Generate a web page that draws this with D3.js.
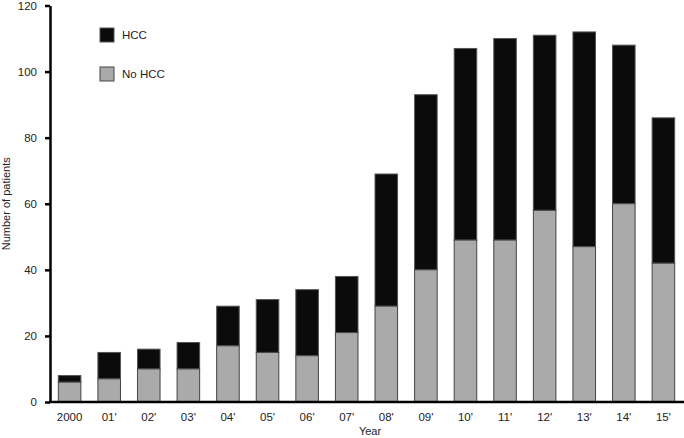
<!DOCTYPE html>
<html>
<head>
<meta charset="utf-8">
<script src="https://cdn.jsdelivr.net/npm/d3@7"></script>
<style>
  body { margin: 0; background: #fff; }
  text { font-family: "Liberation Sans", Arial, Helvetica, sans-serif; fill: #222; }
</style>
</head>
<body>
<div id="chart"></div>
<script>
// data
var years = ["2000", "01'", "02'", "03'", "04'", "05'", "06'", "07'", "08'", "09'", "10'", "11'", "12'", "13'", "14'", "15'"];
var totals = [8, 15, 16, 18, 29, 31, 34, 38, 69, 93, 107, 110, 111, 112, 108, 86];
var noHcc = [6, 7, 10, 10, 17, 15, 14, 21, 29, 40, 49, 49, 58, 47, 60, 42];
var yTicks = [0, 20, 40, 60, 80, 100, 120];

var W = 684, H = 438;
var margin = { top: 5.5, right: 1, bottom: 36, left: 50 };

var svg = d3.select("#chart")
    .append("svg")
    .attr("width", W)
    .attr("height", H);

var x = d3.scaleBand()
    .domain(years)
    .range([margin.left, W - margin.right])
    .paddingInner(0.43)
    .paddingOuter(0.21);

var y = d3.scaleLinear()
    .domain([0, 120])
    .range([H - margin.bottom, margin.top]);

var lstData = years.map(function (d, i) {
    return { year: d, total: totals[i], no: noHcc[i] };
});

// HCC part (top, black)
svg.append("g")
    .selectAll("rect.hcc")
    .data(lstData)
    .enter()
    .append("rect")
    .attr("class", "hcc")
    .attr("x", function (d) { return x(d.year) })
    .attr("width", x.bandwidth())
    .attr("y", function (d) { return y(d.total) })
    .attr("height", function (d) { return y(d.no) - y(d.total) })
    .attr("fill", "#0b0b0b")
    .attr("stroke", "#555")
    .attr("stroke-width", 1)

// No HCC part (bottom, gray)
svg.append("g")
    .selectAll("rect.no")
    .data(lstData)
    .enter()
    .append("rect")
    .attr("class", "no")
    .attr("x", function (d) { return x(d.year) })
    .attr("width", x.bandwidth())
    .attr("y", function (d) { return y(d.no) })
    .attr("height", function (d) { return y(0) - y(d.no) })
    .attr("fill", "#aaaaaa")
    .attr("stroke", "#444")
    .attr("stroke-width", 1)

// Y axis
var yAxis = svg.append("g")
    .attr("transform", "translate(" + margin.left + ",0)")
    .call(d3.axisLeft(y).tickValues(yTicks).tickSize(5).tickPadding(8).tickSizeOuter(0));
yAxis.select(".domain").attr("stroke", "#000").attr("stroke-width", 2.5);
yAxis.selectAll(".tick line").attr("stroke", "#000").attr("stroke-width", 2.5);
yAxis.selectAll(".tick text").style("font-size", "11.5px").attr("fill", "#222");

// X axis
var xAxis = svg.append("g")
    .attr("transform", "translate(0," + y(0) + ")")
    .call(d3.axisBottom(x).tickSize(0).tickPadding(11).tickSizeOuter(0));
xAxis.select(".domain")
    .attr("d", "M" + (margin.left - 1) + ",0H" + W)
    .attr("stroke", "#000").attr("stroke-width", 2.5);
xAxis.selectAll(".tick text").style("font-size", "11.5px").attr("fill", "#222");

// axis titles
svg.append("text")
    .text("Year")
    .attr("x", (margin.left + W) / 2 + 3)
    .attr("y", 435)
    .attr("text-anchor", "middle")
    .style("font-size", "11px")

svg.append("text")
    .text("Number of patients")
    .attr("transform", "translate(10," + y(60) + ") rotate(-90)")
    .attr("text-anchor", "middle")
    .style("font-size", "11px")

// legend
var legend = [{ name: "HCC", color: "#0b0b0b", stroke: "#555" }, { name: "No HCC", color: "#aaaaaa", stroke: "#444" }];
var lg = svg.append("g").selectAll("g").data(legend).enter().append("g")
    .attr("transform", function (d, i) { return "translate(100," + (28 + i * 39) + ")" });
lg.append("rect")
    .attr("width", 14)
    .attr("height", 14)
    .attr("fill", function (d) { return d.color })
    .attr("stroke", function (d) { return d.stroke })
lg.append("text")
    .text(function (d) { return d.name })
    .attr("x", 22)
    .attr("y", 11)
    .style("font-size", "11.5px")
</script>
</body>
</html>
